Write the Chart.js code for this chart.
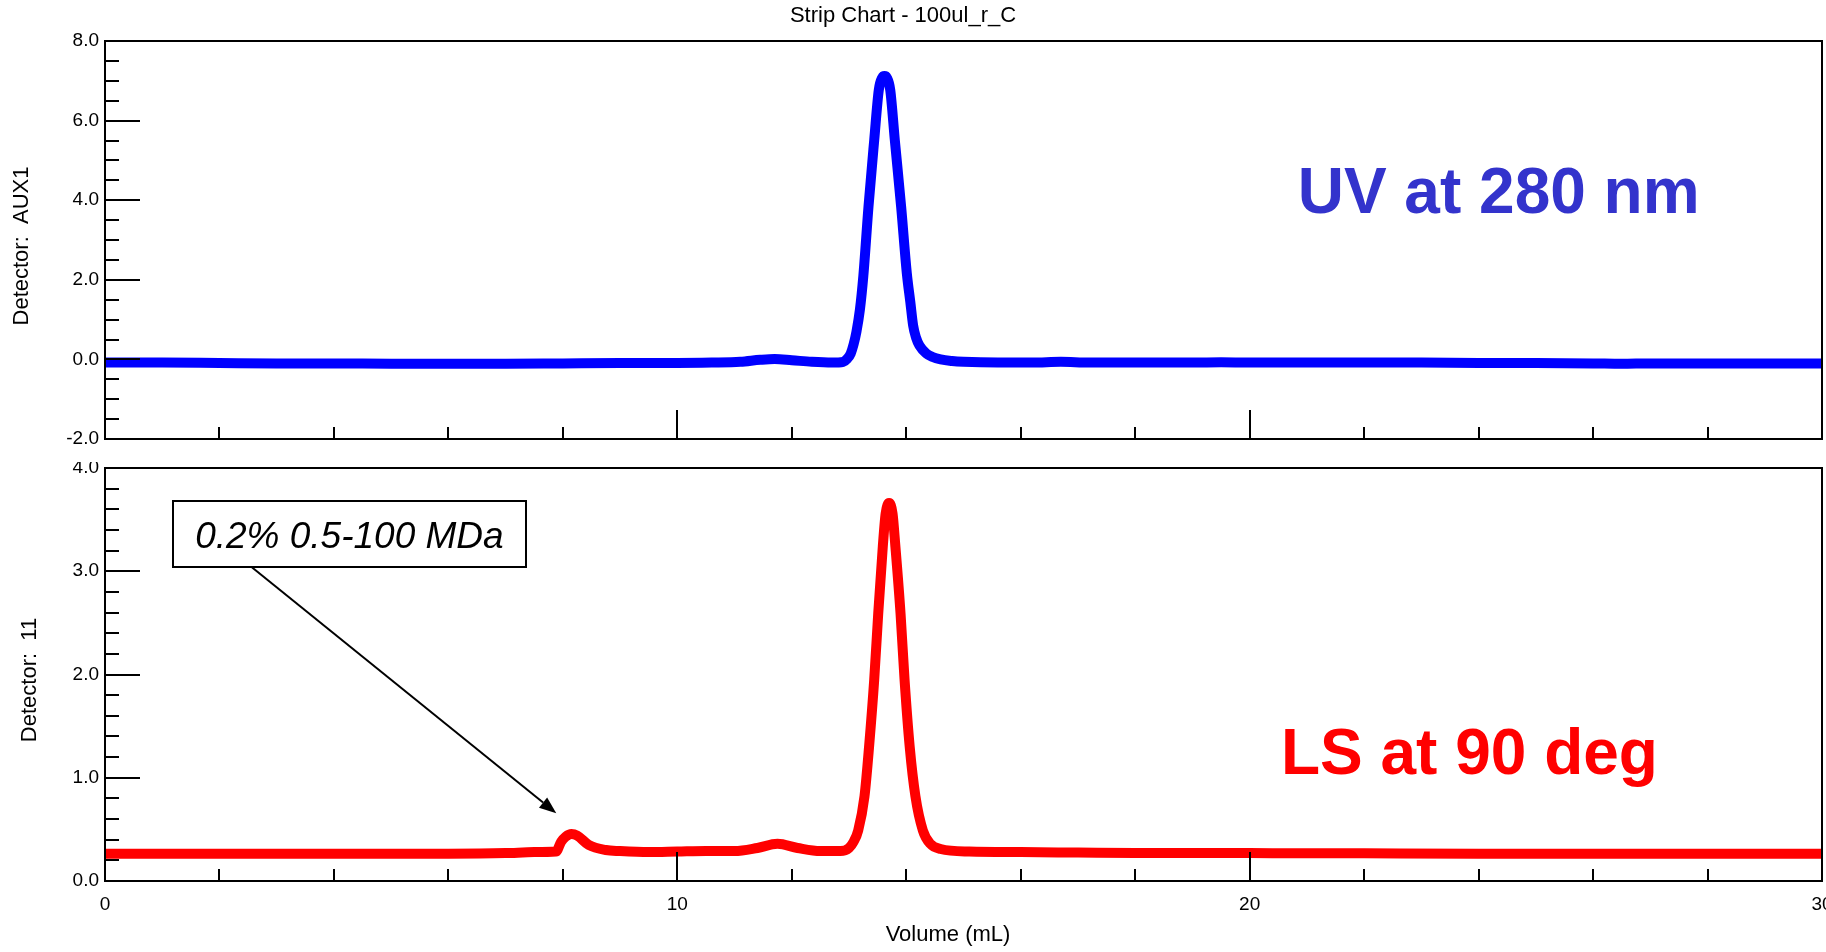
<!DOCTYPE html>
<html>
<head>
<meta charset="utf-8">
<title>Strip Chart - 100ul_r_C</title>
<script src="https://cdn.jsdelivr.net/npm/chart.js@4.4.1/dist/chart.umd.min.js"></script>
<style>
  html, body { margin: 0; padding: 0; background: #fff; overflow: hidden; }
  #wrap { position: relative; width: 1826px; height: 952px; overflow: hidden; }
  #uvChart { position: absolute; left: 0; top: 0; z-index: 2; background: #fff; }
  #lsChart { position: absolute; left: 0; top: 440px; z-index: 1; }
</style>
</head>
<body>
<div id="wrap">
  <canvas id="uvChart" width="1850" height="462"></canvas>
  <canvas id="lsChart" width="1850" height="512"></canvas>
</div>
<script>
// UV trace (top panel)
const uvVolume = [0, 1, 2, 3, 4, 5, 6, 7, 8, 9, 10, 10.6, 11.1, 11.45, 11.7, 12.0, 12.35, 12.7,
  12.9, 12.97, 13.03, 13.08, 13.13, 13.19, 13.25, 13.34, 13.44, 13.52, 13.58, 13.62, 13.66, 13.72,
  13.80, 13.91, 14.01, 14.07, 14.12, 14.17, 14.23, 14.35, 14.46, 14.6, 14.8, 15.0, 15.6, 16.2, 16.7, 17.2,
  18, 19, 19.5, 20, 21, 22, 23, 24, 25, 26, 26.5, 27, 28, 29, 30];
const uvSignal = [-0.08, -0.08, -0.09, -0.10, -0.10, -0.11, -0.11, -0.11, -0.10, -0.09, -0.09, -0.08, -0.06, -0.01, 0.01, -0.02, -0.06, -0.08,
  -0.06, 0.02, 0.15, 0.38, 0.70, 1.25, 2.1, 3.84, 5.51, 6.77, 7.08, 7.12, 7.08, 6.77,
  5.51, 3.84, 2.16, 1.45, 0.85, 0.55, 0.35, 0.15, 0.06, 0.0, -0.04, -0.06, -0.08, -0.08, -0.06, -0.08,
  -0.08, -0.08, -0.07, -0.08, -0.08, -0.08, -0.08, -0.09, -0.09, -0.10, -0.11, -0.10, -0.10, -0.10, -0.10];

// light scattering trace (bottom panel)
const lsVolume = [0, 1, 2, 3, 4, 5, 6, 7, 7.5, 7.88, 7.97, 8.05, 8.15, 8.25, 8.45, 8.75, 9.0, 9.5,
  10, 10.5, 11.0, 11.4, 11.75, 12.1, 12.5, 12.85, 13.0, 13.08, 13.16, 13.27, 13.35, 13.44, 13.51,
  13.59, 13.64, 13.70, 13.76, 13.81, 13.90, 13.97, 14.06, 14.16, 14.29, 14.42, 14.6, 15.1,
  16, 17, 18, 19, 20, 22, 24, 26, 28, 30];
const lsSignal = [0.265, 0.265, 0.265, 0.265, 0.265, 0.265, 0.265, 0.27, 0.28, 0.285, 0.38, 0.43, 0.455, 0.44, 0.35, 0.30, 0.29, 0.28,
  0.285, 0.29, 0.29, 0.32, 0.36, 0.32, 0.29, 0.29, 0.32, 0.38, 0.49, 0.82, 1.30, 1.95, 2.59,
  3.24, 3.56, 3.66, 3.56, 3.24, 2.59, 1.95, 1.30, 0.82, 0.49, 0.36, 0.31, 0.285,
  0.28, 0.275, 0.27, 0.27, 0.27, 0.268, 0.265, 0.265, 0.265, 0.265];

const xTickLabels = [0, 10, 20, 30];
const uvTickValues = [-2, 0, 2, 4, 6, 8];
const lsTickValues = [0, 1, 2, 3, 4];

const FONT = "'Liberation Sans', Arial, Helvetica, sans-serif";

const toPoints = (xs, ys) => xs.map((x, i) => ({ x: x, y: ys[i] }));

// box, inward tick marks and the free text of each panel
const frame = {
  id: 'frame',
  afterDatasetsDraw(chart, args, opts) {
    const { ctx, chartArea: a, scales: { x, y } } = chart;
    ctx.save();
    ctx.strokeStyle = '#000';
    ctx.lineWidth = 2;
    ctx.beginPath();
    const n = Math.round((y.max - y.min) / opts.yMinor);
    for (let i = 0; i <= n; i++) {
      const v = y.min + i * opts.yMinor;
      const r = v / opts.yMajor;
      const major = Math.abs(r - Math.round(r)) < 1e-6;
      const py = Math.round(y.getPixelForValue(v));
      ctx.moveTo(a.left, py);
      ctx.lineTo(a.left + (major ? 35 : 14), py);
    }
    for (let v = x.min; v <= x.max + 1e-9; v += 2) {
      const px = Math.round(x.getPixelForValue(v));
      ctx.moveTo(px, a.bottom);
      ctx.lineTo(px, a.bottom - (v % 10 === 0 ? 29 : 12));
    }
    ctx.stroke();
    ctx.strokeRect(a.left, a.top, a.right - a.left, a.bottom - a.top);

    // callout box with arrow
    if (opts.callout) {
      const c = opts.callout;
      const bx0 = x.getPixelForValue(c.box[0]), by0 = y.getPixelForValue(c.box[1]);
      const bx1 = x.getPixelForValue(c.box[2]), by1 = y.getPixelForValue(c.box[3]);
      const sx = x.getPixelForValue(c.from[0]), sy = y.getPixelForValue(c.from[1]);
      const tx = x.getPixelForValue(c.to[0]), ty = y.getPixelForValue(c.to[1]);
      const ang = Math.atan2(ty - sy, tx - sx);
      const hl = 17, hw = 6.5;
      ctx.beginPath();
      ctx.moveTo(sx, sy);
      ctx.lineTo(tx - hl * Math.cos(ang), ty - hl * Math.sin(ang));
      ctx.stroke();
      ctx.fillStyle = '#000';
      ctx.beginPath();
      ctx.moveTo(tx, ty);
      ctx.lineTo(tx - hl * Math.cos(ang) + hw * Math.sin(ang), ty - hl * Math.sin(ang) - hw * Math.cos(ang));
      ctx.lineTo(tx - hl * Math.cos(ang) - hw * Math.sin(ang), ty - hl * Math.sin(ang) + hw * Math.cos(ang));
      ctx.closePath();
      ctx.fill();
      ctx.fillStyle = '#fff';
      ctx.fillRect(bx0, by0, bx1 - bx0, by1 - by0);
      ctx.strokeRect(Math.round(bx0), Math.round(by0), Math.round(bx1 - bx0), Math.round(by1 - by0));
      ctx.fillStyle = '#000';
      ctx.font = 'italic 37px ' + FONT;
      ctx.textAlign = 'center';
      ctx.textBaseline = 'alphabetic';
      ctx.fillText(c.text, (bx0 + bx1) / 2, y.getPixelForValue(c.baseline));
    }

    (opts.texts || []).forEach(t => {
      ctx.save();
      ctx.fillStyle = t.color || '#000';
      ctx.font = t.font + ' ' + FONT;
      ctx.textAlign = 'center';
      ctx.textBaseline = 'alphabetic';
      const px = t.data ? x.getPixelForValue(t.x) : t.x;
      const py = t.data ? y.getPixelForValue(t.y) : t.y;
      ctx.translate(px, py);
      if (t.rotate) ctx.rotate(-Math.PI / 2);
      ctx.fillText(t.text, 0, 0);
      ctx.restore();
    });
    ctx.restore();
  }
};

const yAxis = (min, max, ticks) => ({
  type: 'linear',
  min: min,
  max: max,
  afterBuildTicks: s => { s.ticks = ticks.map(v => ({ value: v })); },
  afterFit: s => { s.width = 105; },
  grid: { display: false, drawTicks: false },
  border: { display: false },
  ticks: {
    color: '#000',
    padding: 6,
    font: { family: FONT, size: 19 },
    callback: v => Number(v).toFixed(1)
  }
});

const lineSet = (data, color) => ({
  data: data,
  borderColor: color,
  borderWidth: 10,
  borderJoinStyle: 'round',
  pointRadius: 0,
  cubicInterpolationMode: 'monotone',
  fill: false
});

new Chart(document.getElementById('uvChart'), {
  type: 'line',
  data: { datasets: [lineSet(toPoints(uvVolume, uvSignal), '#0000ff')] },
  options: {
    responsive: false,
    animation: false,
    devicePixelRatio: 1,
    layout: { padding: { top: 41, right: 28, bottom: 23, left: 0 } },
    plugins: {
      legend: { display: false },
      tooltip: { enabled: false },
      frame: {
        yMinor: 0.5,
        yMajor: 2,
        texts: [
          { text: 'Strip Chart - 100ul_r_C', x: 903, y: 22, font: '22px' },
          { text: 'Detector:  AUX1', x: 28, y: 246, font: '22px', rotate: true },
          { text: 'UV at 280 nm', x: 24.35, y: 3.68, data: true, font: 'bold 64px', color: '#3333cc' }
        ]
      }
    },
    scales: {
      x: { type: 'linear', min: 0, max: 30, display: false },
      y: yAxis(-2, 8, uvTickValues)
    }
  },
  plugins: [frame]
});

new Chart(document.getElementById('lsChart'), {
  type: 'line',
  data: { datasets: [lineSet(toPoints(lsVolume, lsSignal), '#ff0000')] },
  options: {
    responsive: false,
    animation: false,
    devicePixelRatio: 1,
    layout: { padding: { top: 28, right: 28, bottom: 0, left: 0 } },
    plugins: {
      legend: { display: false },
      tooltip: { enabled: false },
      frame: {
        yMinor: 0.2,
        yMajor: 1,
        callout: {
          text: '0.2% 0.5-100 MDa',
          box: [1.19, 3.685, 7.35, 3.043],
          baseline: 3.225,
          from: [2.555, 3.043],
          to: [7.885, 0.656]
        },
        texts: [
          { text: 'Detector:  11', x: 36, y: 240, font: '22px', rotate: true },
          { text: 'Volume (mL)', x: 948, y: 501, font: '22px' },
          { text: 'LS at 90 deg', x: 23.84, y: 1.033, data: true, font: 'bold 64px', color: '#ff0000' }
        ]
      }
    },
    scales: {
      x: {
        type: 'linear',
        min: 0,
        max: 30,
        afterBuildTicks: s => { s.ticks = xTickLabels.map(v => ({ value: v })); },
        afterFit: s => { s.height = 71; },
        grid: { display: false, drawTicks: false },
        border: { display: false },
        ticks: { color: '#000', padding: 12, maxRotation: 0, font: { family: FONT, size: 19 } }
      },
      y: yAxis(0, 4, lsTickValues)
    }
  },
  plugins: [frame]
});
</script>
</body>
</html>
